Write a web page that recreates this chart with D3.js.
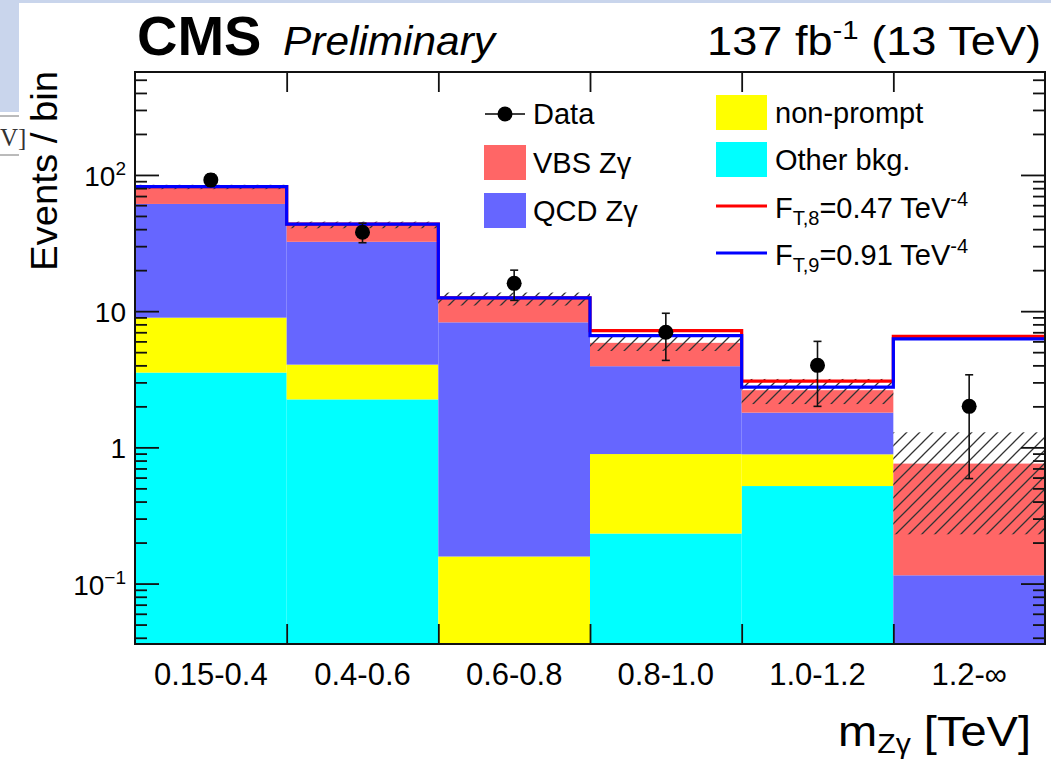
<!DOCTYPE html>
<html>
<head>
<meta charset="utf-8">
<script src="https://cdn.jsdelivr.net/npm/d3@7"></script>
<style>
  body { margin: 0; background: #fff; }
  svg { display: block; font-family: "Liberation Sans", Arial, Helvetica, sans-serif; }
</style>
</head>
<body>
<svg id="chart" width="1051" height="763"></svg>
<script>
// bins of m_Zgamma
const binLabels = ["0.15-0.4", "0.4-0.6", "0.6-0.8", "0.8-1.0", "1.0-1.2", "1.2-\u221e"];

// stacked expectations, bottom to top
const otherBkg = [3.54, 2.25, 0, 0.233, 0.52, 0];
const nonPrompt = [5.42, 1.8, 0.158, 0.66, 0.369, 0];
const qcdZg = [52.3, 28.25, 8.12, 3.05, 0.91, 0.115];
const vbsZg = [20.4, 10.7, 4.07, 1.91, 0.83, 0.645];
const bkgUnc = [3.0, 2.4, 1.35, 0.75, 0.55, 0.53];

// observed
const dataCounts = [92, 38, 16, 7, 4, 2];
const dataErr = [9.6, 6.2, 4.0, 2.65, 2.0, 1.41];

// aQGC signal + bkg lines
const ft8 = [82, 43.5, 12.5, 7.2, 3.06, 6.54];
const ft9 = [82, 43.5, 12.5, 6.62, 2.77, 6.26];

const yTickValues = [0.1, 1, 10, 100];
const yTickBase = ["10", "1", "10", "10"];
const yTickExp = ["\u22121", "", "", "2"];

const stackKeys = ["other", "nonprompt", "qcd", "vbs"];
const stackColors = { other: "#00ffff", nonprompt: "#ffff00", qcd: "#6666ff", vbs: "#ff6666" };

const svg = d3.select("svg#chart");
const frame = { left: 135, right: 1045, top: 72, bottom: 644 };
const yMin = 0.036;

const x = d3.scaleLinear().domain([0, binLabels.length]).range([frame.left, frame.right]);
const y = d3.scaleLog().domain([yMin, 570]).range([frame.bottom, frame.top]).clamp(true);
const yv = (v) => y(Math.max(v, yMin));

// stretch a text horizontally so it covers x0..x1
function fitTo(sel, x0, x1) {
  const b = sel.node().getBBox();
  const k = (x1 - x0) / b.width;
  sel.attr("transform", `translate(${x0},0) scale(${k},1) translate(${-b.x},0)`);
}

// screenshot leftovers around the figure
svg.append("rect").attr("x", 0).attr("y", 0).attr("width", 19).attr("height", 112).attr("fill", "#c9d5ec");
svg.append("rect").attr("x", 0).attr("y", 0).attr("width", 1051).attr("height", 3).attr("fill", "#c9d5ec");
svg.append("line").attr("x1", 0).attr("x2", 19).attr("y1", 116).attr("y2", 116).style("stroke", "#777");
svg.append("line").attr("x1", 0).attr("x2", 19).attr("y1", 155).attr("y2", 155).style("stroke", "#777");
svg.append("text").attr("x", 0).attr("y", 146)
  .style("font", "25px 'Liberation Serif', serif").style("fill", "#333").text("V]");

const defs = svg.append("defs");
defs.append("clipPath").attr("id", "plotClip").append("rect")
  .attr("x", frame.left).attr("y", frame.top)
  .attr("width", frame.right - frame.left).attr("height", frame.bottom - frame.top);
const hatch = defs.append("pattern").attr("id", "hatch").attr("patternUnits", "userSpaceOnUse")
  .attr("width", 13).attr("height", 13);
hatch.append("path").attr("d", "M-2,2 L2,-2 M0,13 L13,0 M11,15 L15,11")
  .style("stroke", "#333").style("stroke-width", 1.3);

const table = binLabels.map((b, i) => ({
  bin: i, other: otherBkg[i], nonprompt: nonPrompt[i], qcd: qcdZg[i], vbs: vbsZg[i]
}));
const series = d3.stack().keys(stackKeys)(table);

const plot = svg.append("g").attr("clip-path", "url(#plotClip)");

series.forEach(function (s) {
  plot.append("g").selectAll("rect").data(s).join("rect")
    .attr("x", (d) => x(d.data.bin))
    .attr("width", x(1) - x(0))
    .attr("y", (d) => yv(d[1]))
    .attr("height", (d) => yv(d[0]) - yv(d[1]))
    .attr("fill", stackColors[s.key]);
});

// uncertainty band on the total
const totals = series[series.length - 1].map((d) => d[1]);
plot.append("g").selectAll("rect").data(totals).join("rect")
  .attr("x", (d, i) => x(i))
  .attr("width", x(1) - x(0))
  .attr("y", (d, i) => yv(d + bkgUnc[i]))
  .attr("height", (d, i) => yv(d - bkgUnc[i]) - yv(d + bkgUnc[i]))
  .attr("fill", "url(#hatch)");

// step lines
const stepLine = d3.line().x((d) => x(d[0])).y((d) => yv(d[1])).curve(d3.curveStepAfter);
[[ft8, "#ff0000"], [ft9, "#0000ff"]].forEach(function (pair) {
  const vals = pair[0];
  const pts = vals.map((v, i) => [i, v]);
  pts.push([vals.length, vals[vals.length - 1]]);
  plot.append("path").attr("d", stepLine(pts))
    .attr("fill", "none").style("stroke", pair[1]).style("stroke-width", 3.2);
});

// data points
const dataG = svg.append("g");
dataCounts.forEach(function (n, i) {
  const cx = x(i + 0.5);
  dataG.append("line").attr("x1", cx).attr("x2", cx)
    .attr("y1", yv(n - dataErr[i])).attr("y2", yv(n + dataErr[i]))
    .style("stroke", "#111").style("stroke-width", 1.6);
  [n - dataErr[i], n + dataErr[i]].forEach(function (e) {
    dataG.append("line").attr("x1", cx - 4).attr("x2", cx + 4)
      .attr("y1", yv(e)).attr("y2", yv(e))
      .style("stroke", "#111").style("stroke-width", 1.6);
  });
  dataG.append("circle").attr("cx", cx).attr("cy", yv(n)).attr("r", 7.5).attr("fill", "#000");
});

// axes ticks (all inward)
const isMajor = (v) => Math.abs(Math.log10(v) - Math.round(Math.log10(v))) < 1e-9;
const minorTicks = y.ticks().filter((v) => !isMajor(v));
const noDomain = (g) => g.select(".domain").remove();
const tickStyle = (g) => g.selectAll(".tick line").style("stroke", "#111").style("stroke-width", 1.8);

svg.append("g").attr("transform", `translate(${frame.left},0)`)
  .call(d3.axisLeft(y).tickValues(minorTicks).tickSize(-12).tickFormat(""))
  .call(noDomain).call(tickStyle);
svg.append("g").attr("transform", `translate(${frame.left},0)`)
  .call(d3.axisLeft(y).tickValues(yTickValues).tickSize(-24).tickFormat(""))
  .call(noDomain).call(tickStyle);
svg.append("g").attr("transform", `translate(${frame.right},0)`)
  .call(d3.axisRight(y).tickValues(minorTicks).tickSize(-12).tickFormat(""))
  .call(noDomain).call(tickStyle);
svg.append("g").attr("transform", `translate(${frame.right},0)`)
  .call(d3.axisRight(y).tickValues(yTickValues).tickSize(-24).tickFormat(""))
  .call(noDomain).call(tickStyle);

const innerEdges = d3.range(1, binLabels.length);
svg.append("g").attr("transform", `translate(0,${frame.bottom})`)
  .call(d3.axisBottom(x).tickValues(innerEdges).tickSize(-20).tickFormat(""))
  .call(noDomain).call(tickStyle);
svg.append("g").attr("transform", `translate(0,${frame.top})`)
  .call(d3.axisTop(x).tickValues(innerEdges).tickSize(-20).tickFormat(""))
  .call(noDomain).call(tickStyle);

svg.append("rect").attr("x", frame.left).attr("y", frame.top)
  .attr("width", frame.right - frame.left).attr("height", frame.bottom - frame.top)
  .attr("fill", "none").style("stroke", "#111").style("stroke-width", 2);

// y tick labels
yTickValues.forEach(function (v, i) {
  const t = svg.append("text").attr("x", 126).attr("y", y(v) + 11)
    .attr("text-anchor", "end").style("font-size", "28px").style("fill", "#000");
  t.append("tspan").text(yTickBase[i]);
  if (yTickExp[i]) {
    t.append("tspan").attr("dy", -11).style("font-size", "19px").text(yTickExp[i]);
  }
});

// x tick labels
svg.append("g").selectAll("text").data(binLabels).join("text")
  .attr("x", (d, i) => x(i + 0.5)).attr("y", 685)
  .attr("text-anchor", "middle").style("font-size", "31px").text((d) => d);

// axis titles
svg.append("text").attr("transform", "rotate(-90)")
  .attr("x", -171).attr("y", 57).attr("text-anchor", "middle")
  .attr("textLength", 200).attr("lengthAdjust", "spacingAndGlyphs")
  .style("font-size", "36px").text("Events / bin");

const xTitle = svg.append("text").attr("x", 1030).attr("y", 746).attr("text-anchor", "end")
  .style("font-size", "42px");
xTitle.append("tspan").text("m");
xTitle.append("tspan").attr("dy", 7).style("font-size", "27px").text("Z\u03b3");
xTitle.append("tspan").attr("dy", -7).text(" [TeV]");
fitTo(xTitle, 838, 1031);

// header
svg.append("text").attr("x", 137).attr("y", 55)
  .style("font-size", "56px").style("font-weight", "bold").text("CMS");
svg.append("text").attr("x", 283).attr("y", 55)
  .attr("textLength", 212).attr("lengthAdjust", "spacingAndGlyphs")
  .style("font-size", "40px").style("font-style", "italic").text("Preliminary");
const lumi = svg.append("text").attr("x", 1040).attr("y", 55).attr("text-anchor", "end")
  .style("font-size", "40px");
lumi.append("tspan").text("137 fb");
lumi.append("tspan").attr("dy", -16).style("font-size", "26px").text("-1");
lumi.append("tspan").attr("dy", 16).text(" (13 TeV)");
fitTo(lumi, 707, 1041);

// legend
const legend = svg.append("g").style("font-size", "29px");
legend.append("line").attr("x1", 485).attr("x2", 525).attr("y1", 114).attr("y2", 114)
  .style("stroke", "#000").style("stroke-width", 1.6);
legend.append("circle").attr("cx", 505).attr("cy", 114).attr("r", 7.5).attr("fill", "#000");
legend.append("text").attr("x", 533).attr("y", 124).text("Data");

const boxEntries = [
  { label: "VBS Z\u03b3", key: "vbs", x: 484, y: 145 },
  { label: "QCD Z\u03b3", key: "qcd", x: 484, y: 193 },
  { label: "non-prompt", key: "nonprompt", x: 716, y: 95 },
  { label: "Other bkg.", key: "other", x: 716, y: 142 }
];
boxEntries.forEach(function (e) {
  legend.append("rect").attr("x", e.x).attr("y", e.y).attr("width", e.x > 600 ? 51 : 42).attr("height", 35)
    .attr("fill", stackColors[e.key]);
  legend.append("text").attr("x", e.x > 600 ? 775 : 533).attr("y", e.y + 28).text(e.label);
});

const lineEntries = [
  { sub: "T,8", val: "=0.47 TeV", color: "#ff0000", y: 206 },
  { sub: "T,9", val: "=0.91 TeV", color: "#0000ff", y: 253 }
];
lineEntries.forEach(function (e) {
  legend.append("line").attr("x1", 716).attr("x2", 767).attr("y1", e.y).attr("y2", e.y)
    .style("stroke", e.color).style("stroke-width", 3);
  const t = legend.append("text").attr("x", 775).attr("y", e.y + 12);
  t.append("tspan").text("F");
  t.append("tspan").attr("dy", 7).style("font-size", "20px").text(e.sub);
  t.append("tspan").attr("dy", -7).text(e.val);
  t.append("tspan").attr("dy", -12).style("font-size", "20px").text("-4");
});
</script>
</body>
</html>
